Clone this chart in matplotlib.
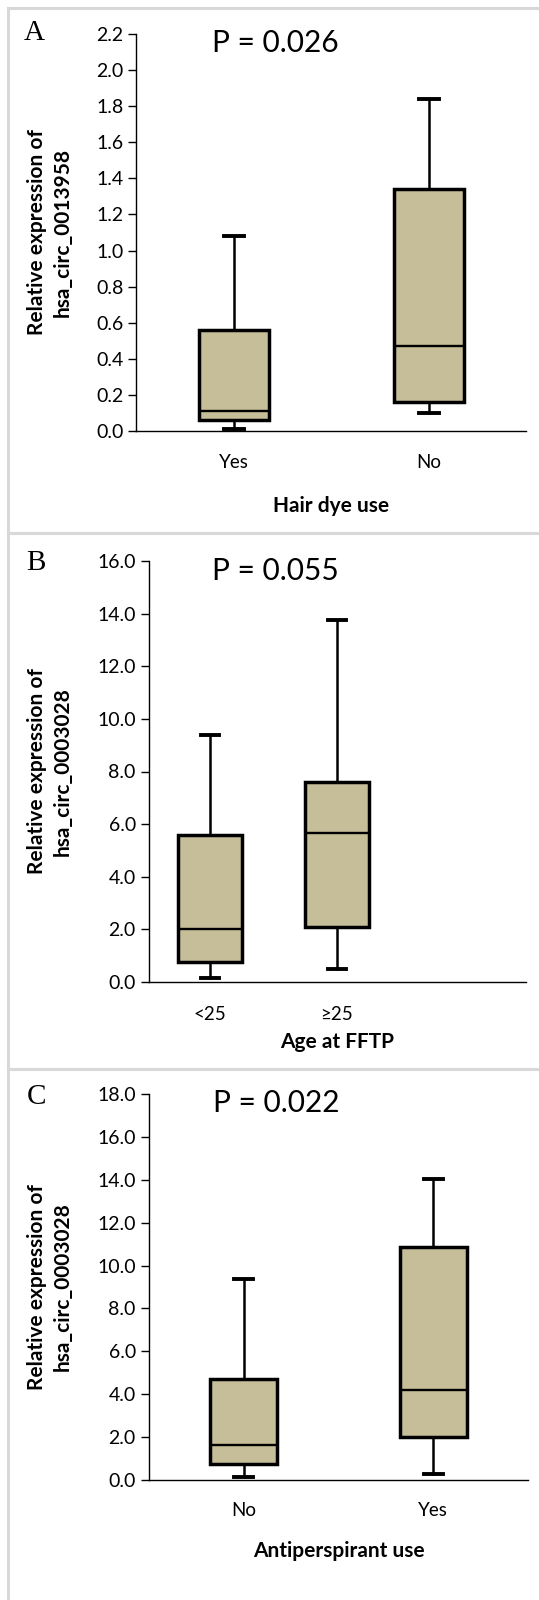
import matplotlib
matplotlib.use("Agg")
import matplotlib.pyplot as plt
from matplotlib.lines import Line2D

W, H = 539, 1600

# ---------------- data ----------------
cats_a = ["Yes", "No"]
low_a = [0.01, 0.10]
q1_a = [0.06, 0.16]
med_a = [0.11, 0.47]
q3_a = [0.56, 1.34]
high_a = [1.08, 1.84]

cats_b = ["<25", "≥25"]
low_b = [0.15, 0.50]
q1_b = [0.75, 2.10]
med_b = [2.00, 5.65]
q3_b = [5.60, 7.60]
high_b = [9.40, 13.75]

cats_c = ["No", "Yes"]
low_c = [0.15, 0.30]
q1_c = [0.75, 2.00]
med_c = [1.65, 4.20]
q3_c = [4.70, 10.85]
high_c = [9.35, 14.05]

panels = [
    dict(letter="A", cats=cats_a, low=low_a, q1=q1_a, med=med_a, q3=q3_a, high=high_a,
         ymax=2.2, ystep=0.2, p="P = 0.026", xlabel="Hair dye use",
         ylabel="Relative expression of\nhsa_circ_0013958"),
    dict(letter="B", cats=cats_b, low=low_b, q1=q1_b, med=med_b, q3=q3_b, high=high_b,
         ymax=16.0, ystep=2.0, p="P = 0.055", xlabel="Age at FFTP",
         ylabel="Relative expression of\nhsa_circ_0003028"),
    dict(letter="C", cats=cats_c, low=low_c, q1=q1_c, med=med_c, q3=q3_c, high=high_c,
         ymax=18.0, ystep=2.0, p="P = 0.022", xlabel="Antiperspirant use",
         ylabel="Relative expression of\nhsa_circ_0003028"),
]

# ---------------- layout (pixels) ----------------
layout = [
    dict(x0=136.5, x1=526, ytop=34, ybot=431, xlim=(0.5, 2.5), bw=0.36, cap=0.103,
         letter_xy=(34, 33), p_xy=(275, 43), xl_y=506, tick_y=462, yl_x=(36, 64)),
    dict(x0=149, x1=526, ytop=561, ybot=982, xlim=(0.52, 3.49), bw=0.50, cap=0.14,
         letter_xy=(36, 563), p_xy=(275, 571), xl_y=1042, tick_y=1015, yl_x=(36, 64)),
    dict(x0=149, x1=528, ytop=1094, ybot=1480, xlim=(0.5, 2.5), bw=0.355, cap=0.10,
         letter_xy=(36, 1097), p_xy=(276, 1103), xl_y=1551, tick_y=1510, yl_x=(36, 64)),
]

SANS = ["Lato", "DejaVu Sans"]
SERIF = ["Liberation Serif", "DejaVu Serif"]
FILL = "#C5BE98"

fig = plt.figure(figsize=(W / 100, H / 100), dpi=100)
fig.patch.set_facecolor("white")

def fx(x):
    return x / W

def fy(y):
    return 1 - y / H

for pan, lay in zip(panels, layout):
    ax = fig.add_axes([fx(lay["x0"]), fy(lay["ybot"]),
                       (lay["x1"] - lay["x0"]) / W, (lay["ybot"] - lay["ytop"]) / H])
    stats = []
    for i, c in enumerate(pan["cats"]):
        stats.append(dict(label=c, whislo=pan["low"][i], q1=pan["q1"][i], med=pan["med"][i],
                          q3=pan["q3"][i], whishi=pan["high"][i], fliers=[]))
    pos = list(range(1, len(stats) + 1))
    ax.bxp(stats, positions=pos, widths=lay["bw"], patch_artist=True, showfliers=False,
           boxprops=dict(facecolor=FILL, edgecolor="black", linewidth=2.5),
           medianprops=dict(color="black", linewidth=1.7),
           whiskerprops=dict(color="black", linewidth=1.8),
           capprops=dict(color="black", linewidth=2.8),
           capwidths=lay["cap"])
    ax.set_xlim(*lay["xlim"])
    ax.set_ylim(0, pan["ymax"])
    n = int(round(pan["ymax"] / pan["ystep"]))
    ticks = [pan["ystep"] * k for k in range(n + 1)]
    ax.set_yticks(ticks)
    ax.set_yticklabels([f"{t:.1f}" for t in ticks], fontfamily=SANS, fontsize=14)
    ax.set_xticks([])
    for s in ["top", "right"]:
        ax.spines[s].set_visible(False)
    ax.spines["left"].set_linewidth(1.0)
    ax.spines["bottom"].set_linewidth(1.0)
    ax.tick_params(axis="y", direction="out", length=5.5, width=1.0, pad=4)
    ax.set_facecolor("none")
    # category labels
    for p, c in zip(pos, pan["cats"]):
        xp = ax.transData.transform((p, 0))[0]
        xfig = fig.transFigure.inverted().transform((xp, 0))[0]
        fig.text(xfig, fy(lay["tick_y"]), c, ha="center", va="center",
                 fontfamily=SANS, fontsize=13.5)
    # x label
    fig.text(fx((lay["x0"] + lay["x1"]) / 2), fy(lay["xl_y"]), pan["xlabel"], ha="center",
             va="center", fontfamily=SANS, fontsize=15, fontweight="bold")
    # y label
    fig.text(fx((lay["yl_x"][0] + lay["yl_x"][1]) / 2), fy((lay["ytop"] + lay["ybot"]) / 2),
             pan["ylabel"], ha="center", va="center", rotation=90, multialignment="center",
             fontfamily=SANS, fontsize=15, fontweight="bold", linespacing=1.4)
    # P value
    fig.text(fx(lay["p_xy"][0]), fy(lay["p_xy"][1]), pan["p"], ha="center", va="center",
             fontfamily=SANS, fontsize=21.5)
    # panel letter
    fig.text(fx(lay["letter_xy"][0]), fy(lay["letter_xy"][1]), pan["letter"], ha="center",
             va="center", fontfamily=SERIF, fontsize=21)

# panel frames
GRAY = "#d8d8d8"
lw = 2.2
fig.add_artist(Line2D([fx(8), fx(8)], [fy(8), fy(1600)], color=GRAY, lw=lw,
                      transform=fig.transFigure))
for yy in [8, 532.5, 1068.5]:
    fig.add_artist(Line2D([fx(8), fx(539)], [fy(yy), fy(yy)], color=GRAY, lw=lw,
                          transform=fig.transFigure))

fig.savefig("out.png", dpi=100, facecolor="white")
